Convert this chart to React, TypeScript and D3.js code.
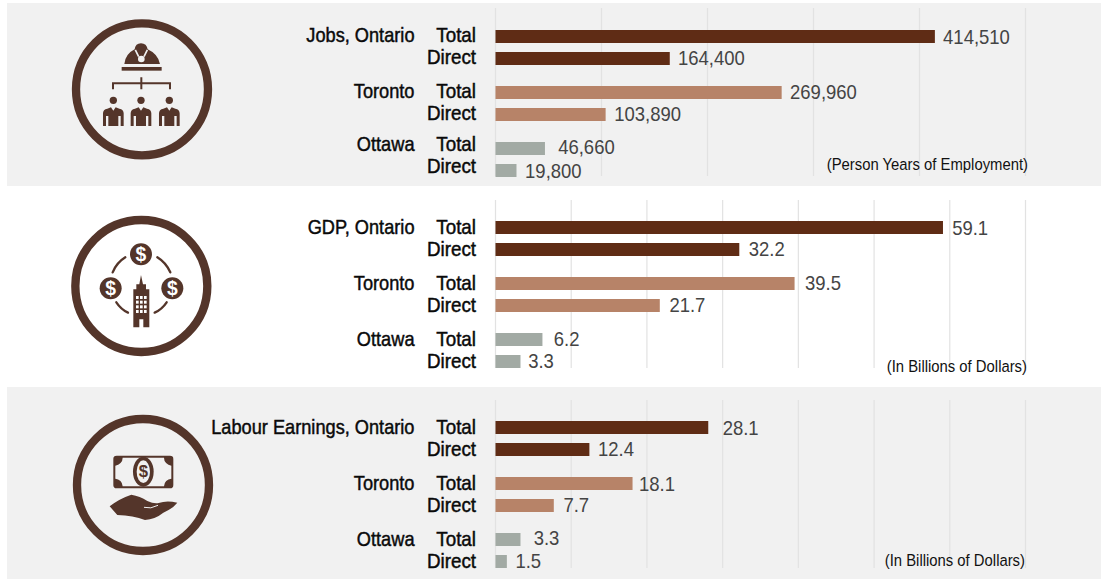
import React from "react";
import * as d3 from "d3";

const groups = ["Ontario", "Toronto", "Ottawa"];
const measures = ["Total", "Direct"];
const jobsValues = [414510, 164400, 269960, 103890, 46660, 19800];
const gdpValues = [59.1, 32.2, 39.5, 21.7, 6.2, 3.3];
const earningsValues = [28.1, 12.4, 18.1, 7.7, 3.3, 1.5];
const jobsDomainMax = 500000;
const dollarsDomainMax = 70;
const headings = ["Jobs, Ontario", "GDP, Ontario", "Labour Earnings, Ontario"];
const units = ["(Person Years of Employment)", "(In Billions of Dollars)", "(In Billions of Dollars)"];

const BAR = ["#5f2c15", "#5f2c15", "#b78368", "#b78368", "#a2aaa4", "#a2aaa4"];
const ICON = "#54352a";
const GRID = "#e2e2e2";
const BG = "#f1f1f1";
const FF = "'Liberation Sans', Arial, sans-serif";

const panels = [
  { values: jobsValues, max: jobsDomainMax, step: 100000, fmt: d3.format(","), top: 30, gridTop: 8, bgTop: 3, bgBottom: 186, bg: BG,
    nudgeX: [8.2, 8.2, 8.4, 8.6, 13.2, 8.6], nudgeY: [1, 0, 0, 0, -1, 0.5],
    catY: [35, 57, 91, 113, 144, 166], unitRight: 1028, unitY: 164 },
  { values: gdpValues, max: dollarsDomainMax, step: 10, fmt: d3.format(".1f"), top: 221.4, gridTop: 200, bgTop: 186, bgBottom: 387, bg: "#ffffff",
    nudgeX: [9.2, 9.4, 10.4, 9.6, 11.3, 7.7], nudgeY: [0.5, 0, 0, 0, 0, 0],
    catY: [227, 249, 283, 305, 339, 361], unitRight: 1027, unitY: 366 },
  { values: earningsValues, max: dollarsDomainMax, step: 10, fmt: d3.format(".1f"), top: 421, gridTop: 400, bgTop: 387, bgBottom: 579, bg: BG,
    nudgeX: [14.4, 8.6, 6.4, 9.6, 13.2, 8.6], nudgeY: [0.5, 0, 0.5, 0, -1, 0],
    catY: [427, 449, 483, 505, 539, 561], unitRight: 1025, unitY: 560 },
];

function T({ x, y, size, sx, anchor = "start", fill, stroke, children }: any) {
  return (
    <text
      transform={`translate(${x},${y}) scale(${sx},1)`}
      textAnchor={anchor}
      fontFamily={FF}
      fontSize={size}
      fill={fill}
      stroke={stroke}
      strokeWidth={stroke ? 0.45 : undefined}
      dominantBaseline="central"
    >
      {children}
    </text>
  );
}

function Dollar({ x, y, size, fill = "#fff" }: any) {
  return (
    <text x={x} y={y} textAnchor="middle" dominantBaseline="central" fontFamily={FF} fontWeight="bold" fontSize={size} fill={fill}>
      $
    </text>
  );
}

function Person({ x }: { x: number }) {
  return (
    <g transform={`translate(${x},0)`} fill={ICON}>
      <circle cx={0} cy={301} r={11} />
      <path d="M-31,378 L-31,340 Q-31,328 -18,326 L-7,322 L0,332 L7,322 L18,326 Q31,328 31,340 L31,378 L22,378 L22,348 L15,348 L15,378 L-15,378 L-15,348 L-22,348 L-22,378 Z" />
    </g>
  );
}

function JobsIcon() {
  return (
    <g transform="translate(60,0) scale(0.3333)">
      <circle cx={246} cy={268} r={198} fill="none" stroke={ICON} strokeWidth={25} />
      <path fill={ICON} d="M193,192 Q196,162 224,148 Q226,130 243,130 Q260,130 263,148 Q294,162 300,192 Z" />
      <path d="M226,150 L236,170 M262,150 L252,170" fill="none" stroke={BG} strokeWidth={5} />
      <circle cx={244} cy={177} r={10} fill={BG} />
      <rect x={185} y={201} width={120} height={11} fill={ICON} />
      <path d="M244,232 V268 M159,268 V250 H330 V268" fill="none" stroke={ICON} strokeWidth={6} />
      <Person x={160} />
      <Person x={243} />
      <Person x={328} />
    </g>
  );
}

function GdpIcon() {
  const windows = d3.range(4).flatMap((r) => d3.range(3).map((c) => [228 + c * 12, 288 + r * 14]));
  return (
    <g transform="translate(60,200) scale(0.3333)">
      <circle cx={244} cy={258} r={198} fill="none" stroke={ICON} strokeWidth={25} />
      <g fill="none" stroke={ICON} strokeWidth={7} strokeLinecap="round">
        <path d="M158,217 Q170,188 196,172" />
        <path d="M292,172 Q318,188 331,217" />
        <path d="M169,307 Q183,328 204,338" />
        <path d="M320,307 Q306,328 284,338" />
      </g>
      {[[243, 163], [152, 265], [337, 265]].map(([cx, cy], i) => (
        <g key={i}>
          <circle cx={cx} cy={cy} r={33} fill={ICON} />
          <Dollar x={cx} y={cy} size={58} />
        </g>
      ))}
      <path fill={ICON} d="M243,225 L249,253 L258,253 L258,268 L268,268 L268,382 L250,382 L250,358 L238,358 L238,382 L220,382 L220,268 L229,268 L229,253 L238,253 Z" />
      {windows.map(([x, y], i) => (
        <rect key={i} x={x} y={y} width={8} height={9} fill="#fff" />
      ))}
    </g>
  );
}

function EarningsIcon() {
  return (
    <g transform="translate(60,400) scale(0.3333)">
      <circle cx={249} cy={255} r={198} fill="none" stroke={ICON} strokeWidth={25} />
      <rect x={160} y={167} width={180} height={98} rx={10} fill={ICON} />
      <path fill={BG} d="M188,173 H312 A24,24 0 0 0 334,197 V236 A24,24 0 0 0 312,259 H188 A24,24 0 0 0 166,236 V197 A24,24 0 0 0 188,173 Z" />
      <ellipse cx={250} cy={215} rx={31} ry={45} fill={ICON} />
      <ellipse cx={250} cy={215} rx={20} ry={34} fill={BG} />
      <Dollar x={250} y={215} size={50} fill={ICON} />
      <path fill={ICON} d="M149,319 Q178,296 214,284 Q240,288 262,303 Q282,312 296,309 Q320,300 352,308 Q338,326 310,338 Q285,358 255,360 Q220,346 172,345 Z" />
      <path d="M252,322 Q272,328 294,316" fill="none" stroke={BG} strokeWidth={3} />
    </g>
  );
}

const icons = [JobsIcon, GdpIcon, EarningsIcon];

function Panel({ p, index }: any) {
  const x = d3.scaleLinear().domain([0, p.max]).range([495.5, 1025.5]);
  const ticks = d3.range(0, p.max + p.step, p.step);
  const group = d3.scaleLinear().domain([0, 2]).range([p.top, p.top + 112]);
  const barY = (i: number) => Math.round(group(Math.floor(i / 2)) + (i % 2) * 21.6);
  const Icon = icons[index];
  return (
    <g>
      <rect x={7} y={p.bgTop} width={1094} height={p.bgBottom - p.bgTop} fill={p.bg} />
      {ticks.map((t: number) => (
        <line key={t} x1={x(t)} x2={x(t)} y1={p.gridTop} y2={p.gridTop + 168} stroke={GRID} strokeWidth={1.2} />
      ))}
      {p.values.map((v: number, i: number) => (
        <g key={i}>
          <rect x={x(0)} y={barY(i)} width={x(v) - x(0)} height={13} fill={BAR[i]} />
          <T x={x(v) + p.nudgeX[i]} y={barY(i) + 6.5 + p.nudgeY[i]} size={20} sx={0.925} fill="#444444">
            {p.fmt(v)}
          </T>
          <T x={476} y={p.catY[i]} size={20} sx={0.94} anchor="end" fill="#0a0a0a" stroke="#0a0a0a">
            {measures[i % 2]}
          </T>
        </g>
      ))}
      {groups.map((g, i) => (
        <T key={g} x={414.5} y={p.catY[i * 2]} size={20} sx={0.91} anchor="end" fill="#0a0a0a" stroke="#0a0a0a">
          {i === 0 ? headings[index] : g}
        </T>
      ))}
      <T x={p.unitRight} y={p.unitY} size={16.5} sx={0.9} anchor="end" fill="#111111">
        {units[index]}
      </T>
      <Icon />
    </g>
  );
}

export default function App() {
  return (
    <svg width={1101} height={579} style={{ position: "absolute", left: 0, top: 0, background: "#fff" }}>
      {panels.map((p, i) => (
        <Panel key={i} p={p} index={i} />
      ))}
    </svg>
  );
}
